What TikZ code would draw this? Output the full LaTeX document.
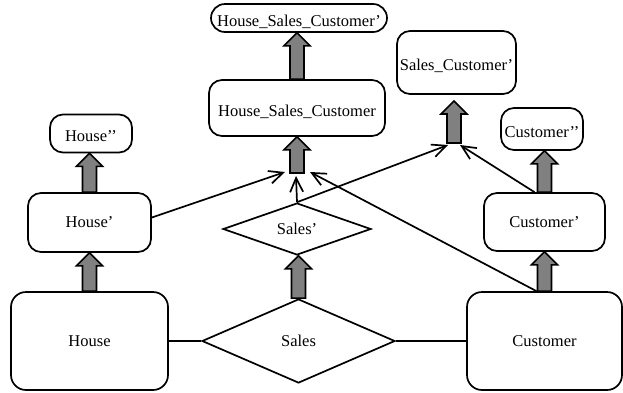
\documentclass[tikz,border=0pt]{standalone}
\usepackage{fontspec}
\setmainfont{Liberation Serif}
\usetikzlibrary{shapes.geometric,arrows.meta,calc}
\definecolor{fatgray}{RGB}{128,128,128}
\newcommand\fatarrow[2]{%
  \path[fatarrowstyle] let \p1=(#1), \p2=(#2) in
    (\x1-7pt,\y1) -- (\x1+7pt,\y1) -- (\x1+7pt,\y2-13pt) -- (\x1+13pt,\y2-13pt)
    -- (\x1,\y2) -- (\x1-13pt,\y2-13pt) -- (\x1-7pt,\y2-13pt) -- cycle;}
\begin{document}
\begin{tikzpicture}[x=1pt,y=-1pt,
  font=\fontsize{16.5}{18}\selectfont,
  box/.style={draw, line width=1.7pt, rectangle, rounded corners=#1, inner sep=0pt},
  box/.default=14pt,
  rel/.style={draw, line width=1.7pt, diamond, inner sep=0pt},
  low/.style={text height=16pt, text depth=0pt},
  fatarrowstyle/.style={draw, line width=1.6pt, fill=fatgray, line join=miter},
  thin/.style={line width=1.7pt, -{Straight Barb[length=14pt,width=13pt]}},
  link/.style={line width=1.7pt}]
\useasboundingbox (0,0) rectangle (623,392);

% nodes
\node[box=15pt, minimum width=157pt, minimum height=98pt] (house) at (89.5,341) {House};
\node[rel, minimum width=193pt, minimum height=84pt] (sales) at (298.5,341) {Sales};
\node[box=15pt, minimum width=155pt, minimum height=98pt] (customer) at (544.5,341) {Customer};

\node[box=13pt, minimum width=123pt, minimum height=59pt] (house1) at (89.5,222.5) {House'};
\node[box=13pt, low, minimum width=82pt, minimum height=38pt] (house2) at (91,133.5) {House'{}'};
\node[rel, minimum width=148pt, minimum height=48pt] (sales1) at (297,229) {Sales'};
\node[box=13pt, minimum width=121pt, minimum height=58pt] (cust1) at (544.5,222) {Customer'};
\node[box=13pt, low, minimum width=82pt, minimum height=42pt] (cust2) at (542,129) {Customer'{}'};

\node[box=13pt, low, minimum width=176pt, minimum height=56pt] (hsc) at (297,108) {House\_Sales\_Customer};
\node[box=14pt, low, minimum width=176pt, minimum height=28pt] (hsc2) at (299,18) {House\_Sales\_Customer'};
\node[box=13pt, low, minimum width=119pt, minimum height=63pt] (sc) at (456.5,62.5) {Sales\_Customer'};

% junction coordinates
\coordinate (j1) at (297,173);
\coordinate (j2) at (454,143);
\coordinate (j2top) at (454,101);
\coordinate (hsL) at (285,172);
\coordinate (hsM) at (296,176);
\coordinate (hsR) at (310,172);
\coordinate (scL) at (448,145);
\coordinate (scR) at (460,145);

% plain links
\draw[link] (house.east) -- (sales.west);
\draw[link] (sales.east) -- (customer.west);

% thin arrows
\draw[thin] ([yshift=5pt]house1.east) -- (hsL);
\draw[thin] (sales1.north) -- (hsM);
\draw[thin] ([xshift=-8pt]customer.north) -- (hsR);
\draw[thin] (sales1.north) -- (scL);
\draw[thin] ([xshift=-10pt]cust1.north) -- (scR);

% fat arrows
\fatarrow{house.north}{house1.south}
\fatarrow{house1.north}{house2.south}
\fatarrow{sales.north}{sales1.south}
\fatarrow{j1}{hsc.south}
\fatarrow{hsc.north}{hsc2.south}
\fatarrow{j2}{j2top}
\fatarrow{customer.north}{cust1.south}
\fatarrow{cust1.north}{cust2.south}
\end{tikzpicture}
\end{document}
